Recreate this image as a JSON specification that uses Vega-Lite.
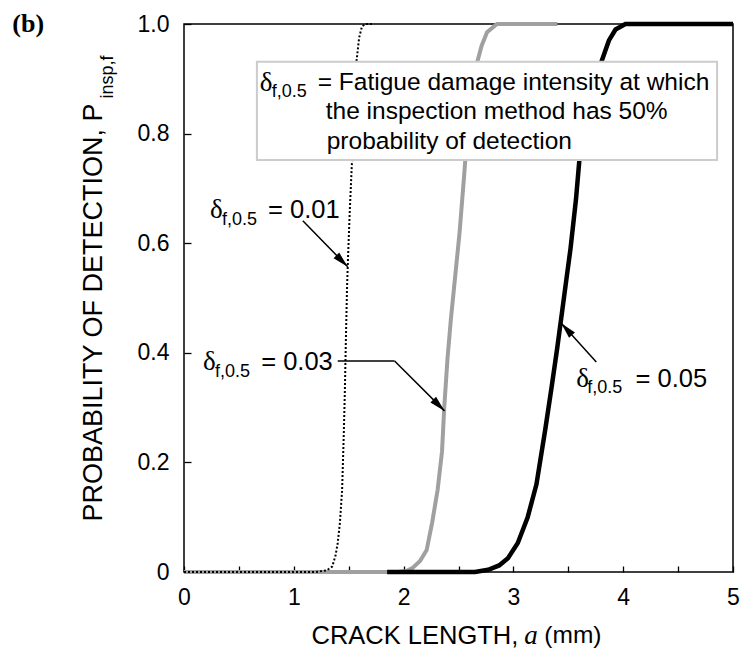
{
  "$schema": "https://vega.github.io/schema/vega-lite/v6.json",
  "width": 549,
  "height": 548,
  "autosize": "none",
  "padding": {"left": 184, "top": 24, "right": 10, "bottom": 84},
  "background": "white",
  "config": {"view": {"stroke": "black", "strokeWidth": 1.5}, "font": "Liberation Sans"},
  "datasets": {
    "curves": [
      {"s": "0.01", "a": 0, "p": 0}, {"s": "0.01", "a": 1.2, "p": 0}, {"s": "0.01", "a": 1.3, "p": 0.003}, {"s": "0.01", "a": 1.35, "p": 0.01},
      {"s": "0.01", "a": 1.38, "p": 0.03}, {"s": "0.01", "a": 1.4, "p": 0.053}, {"s": "0.01", "a": 1.42, "p": 0.09}, {"s": "0.01", "a": 1.44, "p": 0.15},
      {"s": "0.01", "a": 1.455, "p": 0.25}, {"s": "0.01", "a": 1.465, "p": 0.33}, {"s": "0.01", "a": 1.475, "p": 0.43}, {"s": "0.01", "a": 1.485, "p": 0.52},
      {"s": "0.01", "a": 1.495, "p": 0.58}, {"s": "0.01", "a": 1.51, "p": 0.66}, {"s": "0.01", "a": 1.53, "p": 0.75}, {"s": "0.01", "a": 1.55, "p": 0.85},
      {"s": "0.01", "a": 1.57, "p": 0.93}, {"s": "0.01", "a": 1.595, "p": 0.975}, {"s": "0.01", "a": 1.62, "p": 0.995}, {"s": "0.01", "a": 1.65, "p": 1.0},
      {"s": "0.01", "a": 1.71, "p": 1.0},
      {"s": "0.03", "a": 0, "p": 0}, {"s": "0.03", "a": 1.95, "p": 0}, {"s": "0.03", "a": 2.03, "p": 0.002}, {"s": "0.03", "a": 2.08, "p": 0.007},
      {"s": "0.03", "a": 2.15, "p": 0.02}, {"s": "0.03", "a": 2.21, "p": 0.04}, {"s": "0.03", "a": 2.26, "p": 0.09}, {"s": "0.03", "a": 2.31, "p": 0.15},
      {"s": "0.03", "a": 2.35, "p": 0.22}, {"s": "0.03", "a": 2.37, "p": 0.3}, {"s": "0.03", "a": 2.4, "p": 0.39}, {"s": "0.03", "a": 2.43, "p": 0.46},
      {"s": "0.03", "a": 2.455, "p": 0.51}, {"s": "0.03", "a": 2.48, "p": 0.56}, {"s": "0.03", "a": 2.51, "p": 0.62}, {"s": "0.03", "a": 2.55, "p": 0.72},
      {"s": "0.03", "a": 2.58, "p": 0.8}, {"s": "0.03", "a": 2.62, "p": 0.87}, {"s": "0.03", "a": 2.67, "p": 0.93}, {"s": "0.03", "a": 2.71, "p": 0.96},
      {"s": "0.03", "a": 2.76, "p": 0.985}, {"s": "0.03", "a": 2.85, "p": 1.0}, {"s": "0.03", "a": 3.4, "p": 1.0},
      {"s": "0.05", "a": 1.85, "p": 0}, {"s": "0.05", "a": 2.65, "p": 0}, {"s": "0.05", "a": 2.77, "p": 0.004}, {"s": "0.05", "a": 2.87, "p": 0.012},
      {"s": "0.05", "a": 2.95, "p": 0.025}, {"s": "0.05", "a": 3.04, "p": 0.053}, {"s": "0.05", "a": 3.13, "p": 0.1}, {"s": "0.05", "a": 3.21, "p": 0.16},
      {"s": "0.05", "a": 3.29, "p": 0.26}, {"s": "0.05", "a": 3.35, "p": 0.34}, {"s": "0.05", "a": 3.4, "p": 0.41}, {"s": "0.05", "a": 3.44, "p": 0.47},
      {"s": "0.05", "a": 3.48, "p": 0.53}, {"s": "0.05", "a": 3.52, "p": 0.59}, {"s": "0.05", "a": 3.57, "p": 0.68}, {"s": "0.05", "a": 3.6, "p": 0.75},
      {"s": "0.05", "a": 3.66, "p": 0.83}, {"s": "0.05", "a": 3.73, "p": 0.89}, {"s": "0.05", "a": 3.8, "p": 0.93}, {"s": "0.05", "a": 3.87, "p": 0.97},
      {"s": "0.05", "a": 3.93, "p": 0.99}, {"s": "0.05", "a": 4.02, "p": 1.0}, {"s": "0.05", "a": 5.0, "p": 1.0}
    ],
    "box": [{"a": 0.664, "a2": 4.855, "p": 0.931, "p2": 0.752}],
    "arrows": [
      {"a": 1.082, "p": 0.641, "a2": 1.491, "p2": 0.557},
      {"a": 1.4, "p": 0.385, "a2": 1.918, "p2": 0.385},
      {"a": 1.918, "p": 0.385, "a2": 2.373, "p2": 0.294},
      {"a": 3.755, "p": 0.383, "a2": 3.436, "p2": 0.454}
    ],
    "heads": [
      {"l": "0.01", "a": 1.491, "p": 0.557},
      {"l": "0.03", "a": 2.373, "p": 0.294},
      {"l": "0.05", "a": 3.436, "p": 0.454}
    ],
    "texts": [
      {"k": "delta", "t": "δ", "a": 0.236, "p": 0.661},
      {"k": "delta", "t": "δ", "a": 0.173, "p": 0.383},
      {"k": "delta", "t": "δ", "a": 3.573, "p": 0.352},
      {"k": "delta", "t": "δ", "a": 0.691, "p": 0.892},
      {"k": "sub", "t": "f,0.5", "a": 0.345, "p": 0.642},
      {"k": "sub", "t": "f,0.5", "a": 0.282, "p": 0.365},
      {"k": "sub", "t": "f,0.5", "a": 3.673, "p": 0.336},
      {"k": "sub", "t": "f,0.5", "a": 0.8, "p": 0.876},
      {"k": "right", "t": "= 0.01", "a": 1.418, "p": 0.661},
      {"k": "right", "t": "= 0.03", "a": 1.355, "p": 0.383},
      {"k": "right", "t": "= 0.05", "a": 4.764, "p": 0.352},
      {"k": "right", "t": "CRACK LENGTH,", "a": 3.045, "p": -0.117},
      {"k": "left", "t": "= Fatigue damage intensity at which", "a": 1.218, "p": 0.892},
      {"k": "left", "t": "the inspection method has 50%", "a": 1.291, "p": 0.839},
      {"k": "left", "t": "probability of detection", "a": 1.3, "p": 0.785},
      {"k": "left", "t": "(mm)", "a": 3.282, "p": -0.117},
      {"k": "ital", "t": "a", "a": 3.16, "p": -0.117},
      {"k": "ytitle", "t": "PROBABILITY OF DETECTION, P", "a": -0.745, "p": 0.855},
      {"k": "ysub", "t": "insp,f", "a": -0.645, "p": 0.864},
      {"k": "panel", "t": "(b)", "a": -1.564, "p": 1.0}
    ]
  },
  "layer": [
    {
      "data": {"name": "curves"},
      "transform": [{"filter": "datum.s == '0.03'"}],
      "mark": {"type": "line", "color": "#a0a0a0", "strokeWidth": 4},
      "encoding": {
        "x": {
          "field": "a", "type": "quantitative",
          "scale": {"domain": [0, 5], "nice": false, "zero": false},
          "axis": {
            "title": null, "grid": false, "domain": false, "offset": -6, "ticks": true,
            "values": [0, 0.5, 1, 1.5, 2, 2.5, 3, 3.5, 4, 4.5, 5],
            "labelExpr": "datum.value % 1 == 0 ? format(datum.value, 'd') : ''",
            "tickSize": 6, "tickColor": "black", "tickWidth": 1.3, "tickOpacity": 1,
            "labelFontSize": 23, "labelColor": "black", "labelFont": "Liberation Sans",
            "labelPadding": 14, "labelFlush": false, "labelOverlap": false
          }
        },
        "y": {
          "field": "p", "type": "quantitative",
          "scale": {"domain": [0, 1], "nice": false, "zero": false},
          "axis": {
            "title": null, "grid": false, "domain": false, "offset": -7, "ticks": true,
            "values": [0, 0.2, 0.4, 0.6, 0.8, 1],
            "labelExpr": "datum.value == 0 ? '0' : format(datum.value, '.1f')",
            "tickSize": 7, "tickColor": "black", "tickWidth": 1.3, "tickOpacity": 1,
            "labelFontSize": 23, "labelColor": "black", "labelFont": "Liberation Sans",
            "labelPadding": 15, "labelFlush": false, "labelOverlap": false
          }
        }
      }
    },
    {
      "data": {"name": "curves"},
      "transform": [{"filter": "datum.s == '0.05'"}],
      "mark": {"type": "line", "color": "black", "strokeWidth": 4.5},
      "encoding": {
        "x": {"field": "a", "type": "quantitative"},
        "y": {"field": "p", "type": "quantitative"}
      }
    },
    {
      "data": {"name": "curves"},
      "transform": [{"filter": "datum.s == '0.01'"}],
      "mark": {"type": "line", "color": "black", "strokeWidth": 2, "strokeDash": [2, 2]},
      "encoding": {
        "x": {"field": "a", "type": "quantitative"},
        "y": {"field": "p", "type": "quantitative"}
      }
    },
    {
      "data": {"name": "box"},
      "mark": {"type": "rect", "fill": "white", "stroke": "#cccccc", "strokeWidth": 2},
      "encoding": {
        "x": {"field": "a", "type": "quantitative"},
        "x2": {"field": "a2"},
        "y": {"field": "p", "type": "quantitative"},
        "y2": {"field": "p2"}
      }
    },
    {
      "data": {"name": "arrows"},
      "mark": {"type": "rule", "color": "black", "strokeWidth": 1.5},
      "encoding": {
        "x": {"field": "a", "type": "quantitative"},
        "x2": {"field": "a2"},
        "y": {"field": "p", "type": "quantitative"},
        "y2": {"field": "p2"}
      }
    },
    {
      "data": {"name": "heads"},
      "transform": [{"filter": "datum.l != '0.05'"}],
      "mark": {"type": "point", "shape": "M0,0L0.5,2L-0.5,2Z", "filled": true, "color": "black", "opacity": 1, "size": 256, "angle": 135},
      "encoding": {
        "x": {"field": "a", "type": "quantitative"},
        "y": {"field": "p", "type": "quantitative"}
      }
    },
    {
      "data": {"name": "heads"},
      "transform": [{"filter": "datum.l == '0.05'"}],
      "mark": {"type": "point", "shape": "M0,0L0.5,2L-0.5,2Z", "filled": true, "color": "black", "opacity": 1, "size": 256, "angle": 318},
      "encoding": {
        "x": {"field": "a", "type": "quantitative"},
        "y": {"field": "p", "type": "quantitative"}
      }
    },
    {
      "data": {"name": "texts"},
      "transform": [{"filter": "datum.k == 'delta'"}],
      "mark": {"type": "text", "font": "Liberation Serif", "fontSize": 27, "align": "left", "baseline": "middle", "color": "black"},
      "encoding": {
        "x": {"field": "a", "type": "quantitative"},
        "y": {"field": "p", "type": "quantitative"},
        "text": {"field": "t"}
      }
    },
    {
      "data": {"name": "texts"},
      "transform": [{"filter": "datum.k == 'sub'"}],
      "mark": {"type": "text", "font": "Liberation Sans", "fontSize": 18, "align": "left", "baseline": "middle", "color": "black"},
      "encoding": {
        "x": {"field": "a", "type": "quantitative"},
        "y": {"field": "p", "type": "quantitative"},
        "text": {"field": "t"}
      }
    },
    {
      "data": {"name": "texts"},
      "transform": [{"filter": "datum.k == 'right'"}],
      "mark": {"type": "text", "font": "Liberation Sans", "fontSize": 25.5, "align": "right", "baseline": "middle", "color": "black"},
      "encoding": {
        "x": {"field": "a", "type": "quantitative"},
        "y": {"field": "p", "type": "quantitative"},
        "text": {"field": "t"}
      }
    },
    {
      "data": {"name": "texts"},
      "transform": [{"filter": "datum.k == 'left'"}],
      "mark": {"type": "text", "font": "Liberation Sans", "fontSize": 24.5, "align": "left", "baseline": "middle", "color": "black"},
      "encoding": {
        "x": {"field": "a", "type": "quantitative"},
        "y": {"field": "p", "type": "quantitative"},
        "text": {"field": "t"}
      }
    },
    {
      "data": {"name": "texts"},
      "transform": [{"filter": "datum.k == 'ital'"}],
      "mark": {"type": "text", "font": "Liberation Serif", "fontStyle": "italic", "fontSize": 27, "align": "center", "baseline": "middle", "color": "black"},
      "encoding": {
        "x": {"field": "a", "type": "quantitative"},
        "y": {"field": "p", "type": "quantitative"},
        "text": {"field": "t"}
      }
    },
    {
      "data": {"name": "texts"},
      "transform": [{"filter": "datum.k == 'ytitle'"}],
      "mark": {"type": "text", "font": "Liberation Sans", "fontSize": 27, "align": "right", "baseline": "alphabetic", "angle": 270, "color": "black"},
      "encoding": {
        "x": {"field": "a", "type": "quantitative"},
        "y": {"field": "p", "type": "quantitative"},
        "text": {"field": "t"}
      }
    },
    {
      "data": {"name": "texts"},
      "transform": [{"filter": "datum.k == 'ysub'"}],
      "mark": {"type": "text", "font": "Liberation Sans", "fontSize": 18, "align": "left", "baseline": "alphabetic", "angle": 270, "color": "black"},
      "encoding": {
        "x": {"field": "a", "type": "quantitative"},
        "y": {"field": "p", "type": "quantitative"},
        "text": {"field": "t"}
      }
    },
    {
      "data": {"name": "texts"},
      "transform": [{"filter": "datum.k == 'panel'"}],
      "mark": {"type": "text", "font": "Liberation Serif", "fontWeight": "bold", "fontSize": 26, "align": "left", "baseline": "middle", "color": "black"},
      "encoding": {
        "x": {"field": "a", "type": "quantitative"},
        "y": {"field": "p", "type": "quantitative"},
        "text": {"field": "t"}
      }
    }
  ]
}
